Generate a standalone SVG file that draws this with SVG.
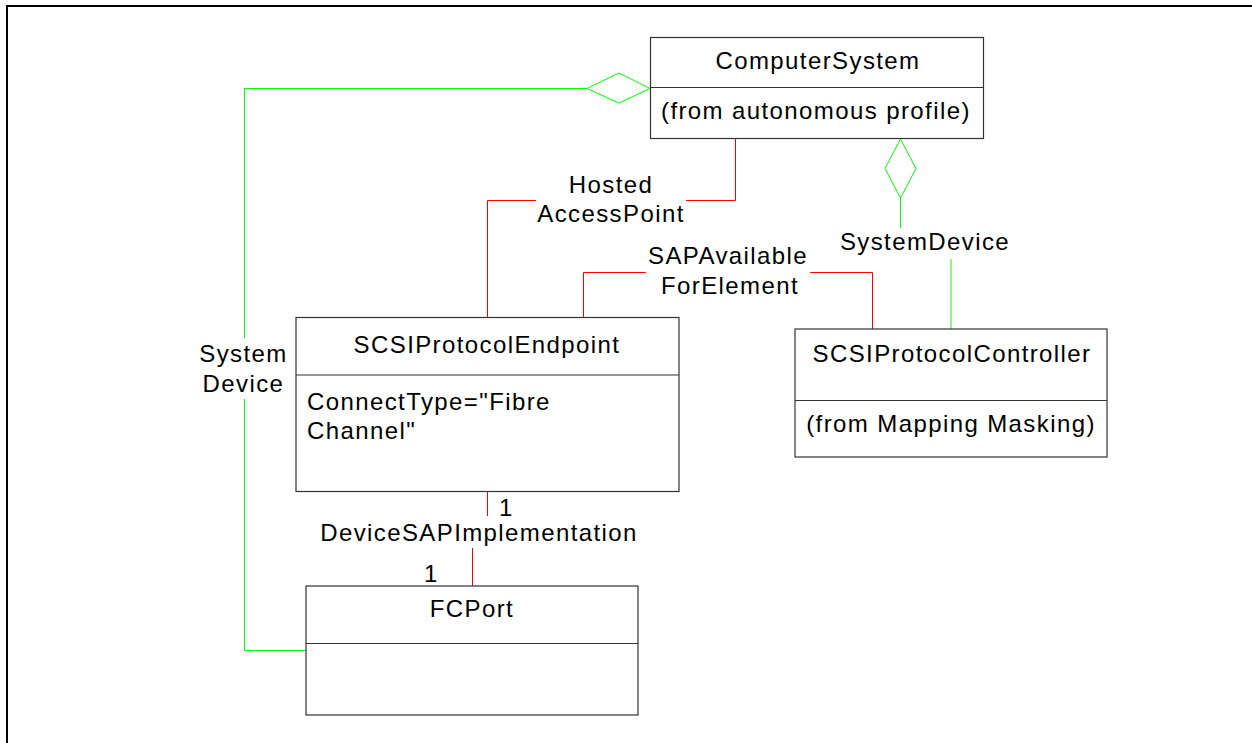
<svg xmlns="http://www.w3.org/2000/svg" width="1252" height="743" viewBox="0 0 1252 743">
<style>
.box{fill:#fff;stroke:#333;stroke-width:1.2}
.div{stroke:#333;stroke-width:1.2}
.t{font-family:"Liberation Sans",Arial,sans-serif;font-size:24px;letter-spacing:1.4px;fill:#000}
.m{text-anchor:middle}
.red{fill:none;stroke:#ff0000;stroke-width:1}
.grn{fill:none;stroke:#00ff00;stroke-width:1}
</style>
<rect width="1252" height="743" fill="#fff"/>
<path d="M7,743 V6 H1252" fill="none" stroke="#000" stroke-width="2"/>
<g id="connectors">
  <path class="grn" d="M587,88.5 H244.5 V338"/>
  <path class="grn" d="M244.5,399 V650.5 H306"/>
  <path class="grn" d="M587,88.5 L619,73 L650,88.5 L619,103 Z"/>
  <path class="grn" d="M900.5,139 L885,168.5 L900.5,198 L916,168.5 Z"/>
  <path class="grn" d="M900.5,198 V228"/>
  <path class="grn" d="M951,259 V329"/>
  <path class="red" d="M735.5,138 V200.5 H686"/>
  <path class="red" d="M536,200.5 H487.5 V317"/>
  <path class="red" d="M583.5,317 V272.5 H646"/>
  <path class="red" d="M810,272.5 H872.5 V329"/>
  <path class="red" d="M487.5,491 V516"/>
  <path class="red" d="M472.5,548 V586"/>
  <text class="t m" x="611" y="193">Hosted</text>
  <text class="t m" x="611" y="222">AccessPoint</text>
  <text class="t m" x="728" y="264">SAPAvailable</text>
  <text class="t m" x="730" y="294">ForElement</text>
  <text class="t m" x="925" y="250">SystemDevice</text>
  <text class="t m" x="243.5" y="362">System</text>
  <text class="t m" x="243.5" y="392">Device</text>
  <text class="t m" x="479" y="541">DeviceSAPImplementation</text>
  <text class="t" x="499" y="516">1</text>
  <text class="t" x="424" y="582">1</text>
</g>
<g id="ComputerSystem">
  <rect class="box" x="650.5" y="37.5" width="333" height="101"/>
  <line class="div" x1="650.5" y1="87.5" x2="983.5" y2="87.5"/>
  <text class="t m" x="818" y="69">ComputerSystem</text>
  <text class="t" x="661" y="119">(from autonomous profile)</text>
</g>
<g id="SCSIProtocolEndpoint">
  <rect class="box" x="296" y="317.5" width="383" height="174"/>
  <line class="div" x1="296" y1="375" x2="679" y2="375"/>
  <text class="t m" x="487" y="353">SCSIProtocolEndpoint</text>
  <text class="t" x="307" y="410">ConnectType="Fibre</text>
  <text class="t" x="307" y="439">Channel"</text>
</g>
<g id="SCSIProtocolController">
  <rect class="box" x="795" y="329" width="312" height="128"/>
  <line class="div" x1="795" y1="400.5" x2="1107" y2="400.5"/>
  <text class="t m" x="952" y="362">SCSIProtocolController</text>
  <text class="t m" x="951" y="432">(from Mapping Masking)</text>
</g>
<g id="FCPort">
  <rect class="box" x="306" y="586" width="332" height="129"/>
  <line class="div" x1="306" y1="643.5" x2="638" y2="643.5"/>
  <text class="t m" x="472" y="617">FCPort</text>
</g>
</svg>
